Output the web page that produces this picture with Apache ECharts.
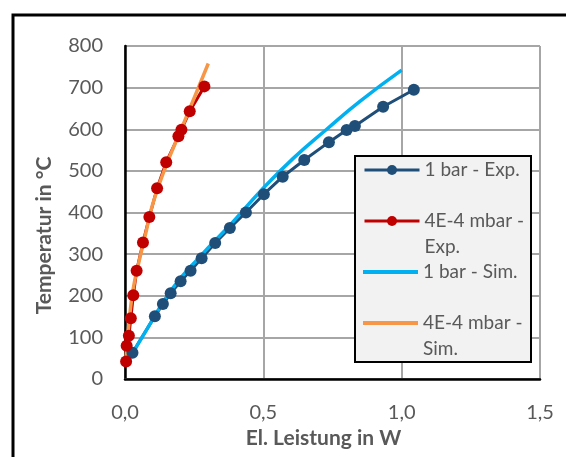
<!DOCTYPE html>
<html>
<head>
<meta charset="utf-8">
<script src="https://cdn.jsdelivr.net/npm/echarts@6/dist/echarts.min.js"></script>
<style>
  html, body { margin: 0; padding: 0; background: #fff; }
  #chart { width: 566px; height: 457px; }
</style>
</head>
<body>
<div id="chart"></div>
<script>
// Messwerte / Simulation: [El. Leistung in W, Temperatur in °C]
const exp1bar = [
  [0.027, 63], [0.108, 151], [0.137, 180], [0.165, 206], [0.201, 235], [0.237, 260],
  [0.277, 290], [0.326, 327], [0.379, 363], [0.437, 400], [0.502, 444], [0.570, 486],
  [0.648, 526], [0.737, 569], [0.801, 598], [0.831, 608], [0.933, 654], [1.044, 695]
]
const expVac = [
  [0.004, 42], [0.006, 80], [0.014, 104], [0.021, 146], [0.030, 201], [0.042, 260],
  [0.065, 328], [0.088, 389], [0.116, 458], [0.149, 521], [0.193, 583], [0.204, 599],
  [0.234, 643], [0.287, 703]
]
const sim1bar = [
  [0.003, 34], [0.078, 118], [0.17, 216], [0.271, 294], [0.391, 378], [0.488, 450],
  [0.608, 530], [0.729, 600], [0.849, 667], [1.0, 742]
]
const simVac = [
  [0.002, 35], [0.015, 140], [0.03, 218], [0.05, 280], [0.075, 350], [0.1, 420],
  [0.15, 515], [0.2, 595], [0.25, 675], [0.301, 758]
]

const seriesNames = ['1 bar - Exp.', '4E-4 mbar - Exp.', '1 bar - Sim.', '4E-4 mbar - Sim.']
// leere erste Zeile: Symbol sitzt dann auf Höhe der ersten Textzeile
const legendLabels = ['1 bar - Exp.', '\n4E-4 mbar -\nExp.', '1 bar - Sim.', '\n4E-4 mbar -\nSim.']
const xTickLabels = ['0,0', '0,5', '1,0', '1,5']
const yTickLabels = ['0', '100', '200', '300', '400', '500', '600', '700', '800']

const FONT = 'Lato'
const GREY = '#595959'

const chart = echarts.init(document.getElementById('chart'))

// ein Legendeneintrag pro Komponente, damit die zweizeiligen Texte wie in Excel sitzen
const legendTops = [157, 182, 259, 284]
const legends = seriesNames.map((name, i) => {
  const isSim = i >= 2
  return {
    data: [isSim ? { name, icon: 'rect' } : name],
    left: 363,
    top: legendTops[i],
    padding: 0,
    orient: 'vertical',
    itemWidth: 55,
    itemHeight: isSim ? 4 : 12.5,
    itemGap: 0,
    selectedMode: false,
    z: 6,
    lineStyle: { width: 3 },
    formatter: () => legendLabels[i],
    textStyle: {
      fontFamily: FONT,
      fontSize: 19,
      color: GREY,
      lineHeight: 26,
    },
  }
})

chart.setOption({
  animation: false,
  textStyle: { fontFamily: FONT },
  grid: { left: 125, top: 46, right: 26, bottom: 78, show: false },
  legend: legends,
  graphic: [
    {
      type: 'rect',
      z: -1,
      shape: { x: 13, y: 15, width: 620, height: 520 },
      style: { fill: 'none', stroke: '#000', lineWidth: 3 },
    },
    {
      type: 'rect',
      z: 5,
      shape: { x: 355, y: 156, width: 176, height: 206 },
      style: { fill: '#f2f2f2', stroke: '#000', lineWidth: 2 },
    },
  ],
  xAxis: [
    {
      type: 'value',
      min: 0, max: 1.5, interval: 0.5,
      name: 'El. Leistung in W',
      nameLocation: 'middle',
      nameGap: 48,
      nameTextStyle: {
        fontFamily: FONT, fontSize: 21, fontWeight: 'bold', color: GREY,
        padding: [0, 18, 0, 0],
      },
      axisLine: { show: true, lineStyle: { color: '#8c8c8c', width: 2 } },
      axisTick: { show: false },
      axisLabel: {
        margin: 24, fontSize: 20, color: GREY, fontFamily: FONT,
        formatter: v => xTickLabels[Math.round(v / 0.5)],
      },
      splitLine: { show: true, lineStyle: { color: '#a6a6a6', width: 2 } },
    },
    {
      type: 'value', position: 'top',
      min: 0, max: 1.5, interval: 0.5,
      axisLine: { show: true, lineStyle: { color: '#000', width: 2.5 } },
      axisTick: { show: false }, axisLabel: { show: false }, splitLine: { show: false },
    },
  ],
  yAxis: [
    {
      type: 'value',
      min: 0, max: 800, interval: 100,
      name: 'Temperatur in °C',
      nameLocation: 'middle',
      nameGap: 70,
      nameTextStyle: {
        fontFamily: FONT, fontSize: 21, fontWeight: 'bold', color: GREY,
        padding: [0, 46, 0, 0],
      },
      axisLine: { show: true, lineStyle: { color: '#8c8c8c', width: 2 } },
      axisTick: { show: false },
      axisLabel: {
        margin: 22, fontSize: 20, color: GREY, fontFamily: FONT,
        formatter: v => yTickLabels[Math.round(v / 100)],
      },
      splitLine: { show: true, lineStyle: { color: '#a6a6a6', width: 2 } },
    },
    {
      type: 'value', position: 'right',
      min: 0, max: 800, interval: 100,
      axisLine: { show: true, lineStyle: { color: '#000', width: 2.5 } },
      axisTick: { show: false }, axisLabel: { show: false }, splitLine: { show: false },
    },
  ],
  series: [
    {
      name: seriesNames[0],
      type: 'line',
      data: exp1bar,
      symbol: 'circle',
      symbolSize: 12,
      color: '#1f4e79',
      lineStyle: { color: '#1f4e79', width: 3 },
      itemStyle: { color: '#1f4e79' },
    },
    {
      name: seriesNames[1],
      type: 'line',
      data: expVac,
      symbol: 'circle',
      symbolSize: 12,
      color: '#c00000',
      lineStyle: { color: '#c00000', width: 3 },
      itemStyle: { color: '#c00000' },
    },
    {
      name: seriesNames[2],
      type: 'line',
      data: sim1bar,
      smooth: true,
      symbol: 'none',
      color: '#00b0f0',
      lineStyle: { color: '#00b0f0', width: 3.5 },
      itemStyle: { color: '#00b0f0' },
    },
    {
      name: seriesNames[3],
      type: 'line',
      data: simVac,
      smooth: true,
      symbol: 'none',
      color: '#f79646',
      lineStyle: { color: '#f79646', width: 3.5 },
      itemStyle: { color: '#f79646' },
    },
  ],
})
</script>
</body>
</html>
